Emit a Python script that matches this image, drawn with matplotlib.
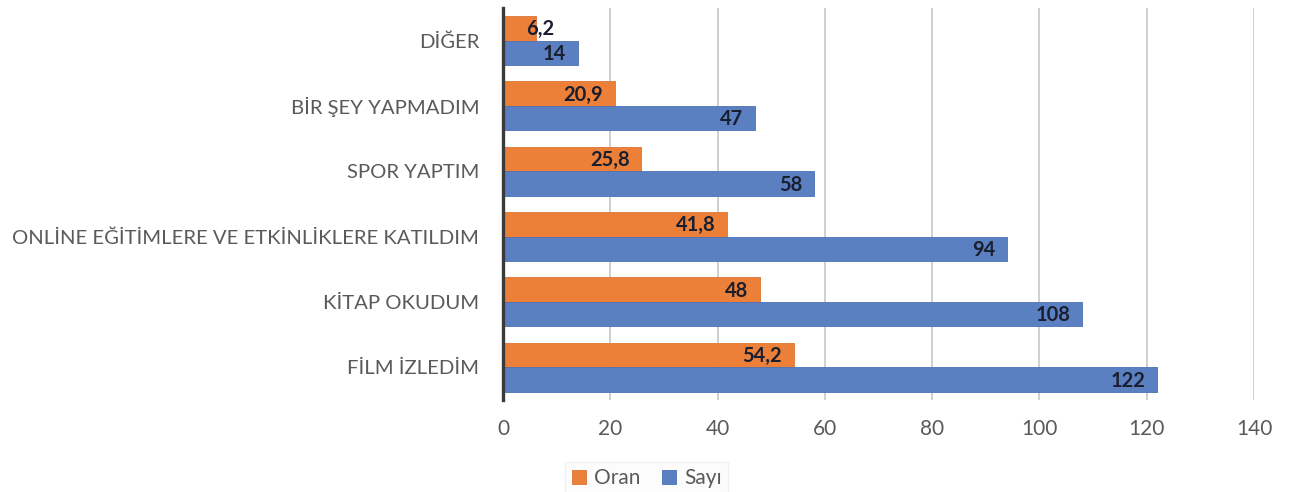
import matplotlib
matplotlib.use('Agg')
import matplotlib.pyplot as plt
import numpy as np

plt.rcParams['font.family'] = ['Lato', 'DejaVu Sans']

categories = ['FİLM İZLEDİM', 'KİTAP OKUDUM', 'ONLİNE EĞİTİMLERE VE ETKİNLİKLERE KATILDIM',
              'SPOR YAPTIM', 'BİR ŞEY YAPMADIM', 'DİĞER']
oran = [54.2, 48, 41.8, 25.8, 20.9, 6.2]
sayi = [122, 108, 94, 58, 47, 14]
xticks = [0, 20, 40, 60, 80, 100, 120, 140]

ORANGE = '#EC8039'
BLUE = '#5B80C2'
GREY = '#5a5a5a'

fig = plt.figure(figsize=(12.99, 4.92), dpi=100)
ax = fig.add_axes([0.3872, 0.187, 0.5782, 0.797])

y = np.arange(len(categories))
h = 0.375
b1 = ax.barh(y + h / 2, oran, height=h, color=ORANGE, edgecolor='#dd7532', linewidth=0.6, label='Oran', zorder=3)
b2 = ax.barh(y - h / 2, sayi, height=h, color=BLUE, edgecolor='#4d71b3', linewidth=0.6, label='Sayı', zorder=3)

def fmt(v):
    s = f'{v:g}'
    return s.replace('.', ',')

for bars, vals in ((b1, oran), (b2, sayi)):
    for bar, v in zip(bars, vals):
        cy = bar.get_y() + bar.get_height() / 2
        # narrow bars get their label pushed past the end
        off = -12 if v > 10 else 18
        ax.annotate(fmt(v), (v, cy), xytext=(off, -1), textcoords='offset pixels',
                    ha='right', va='center', fontsize=14.5, fontweight='bold',
                    color='#1a1f30', zorder=4)

ax.set_xlim(0, 140)
ax.set_ylim(-0.5, len(categories) - 0.5)
ax.set_xticks(xticks)
ax.set_yticks(y)
ax.set_yticklabels(categories)
ax.tick_params(axis='y', length=0, pad=17, labelsize=14.6, labelcolor=GREY)
ax.tick_params(axis='x', length=0, pad=14, labelsize=15, labelcolor=GREY)

ax.grid(axis='x', color='#cfcfcf', linewidth=1.4, zorder=0)
for side in ('top', 'right', 'bottom'):
    ax.spines[side].set_visible(False)
ax.spines['left'].set_color('#3a3a3a')
ax.spines['left'].set_linewidth(2.4)
ax.spines['left'].set_zorder(5)

leg = fig.legend(handles=[b1, b2], loc='center', bbox_to_anchor=(0.498, 0.028), ncol=2,
                 frameon=True, fontsize=15, handlelength=0.7, handleheight=0.7,
                 handletextpad=0.4, columnspacing=1.0, borderpad=0.3, fancybox=False)
leg.get_frame().set_edgecolor('#f0f0f0')
leg.get_frame().set_facecolor('#fcfcfc')
for t in leg.get_texts():
    t.set_color(GREY)

fig.savefig('out.png', dpi=100, facecolor='white')
